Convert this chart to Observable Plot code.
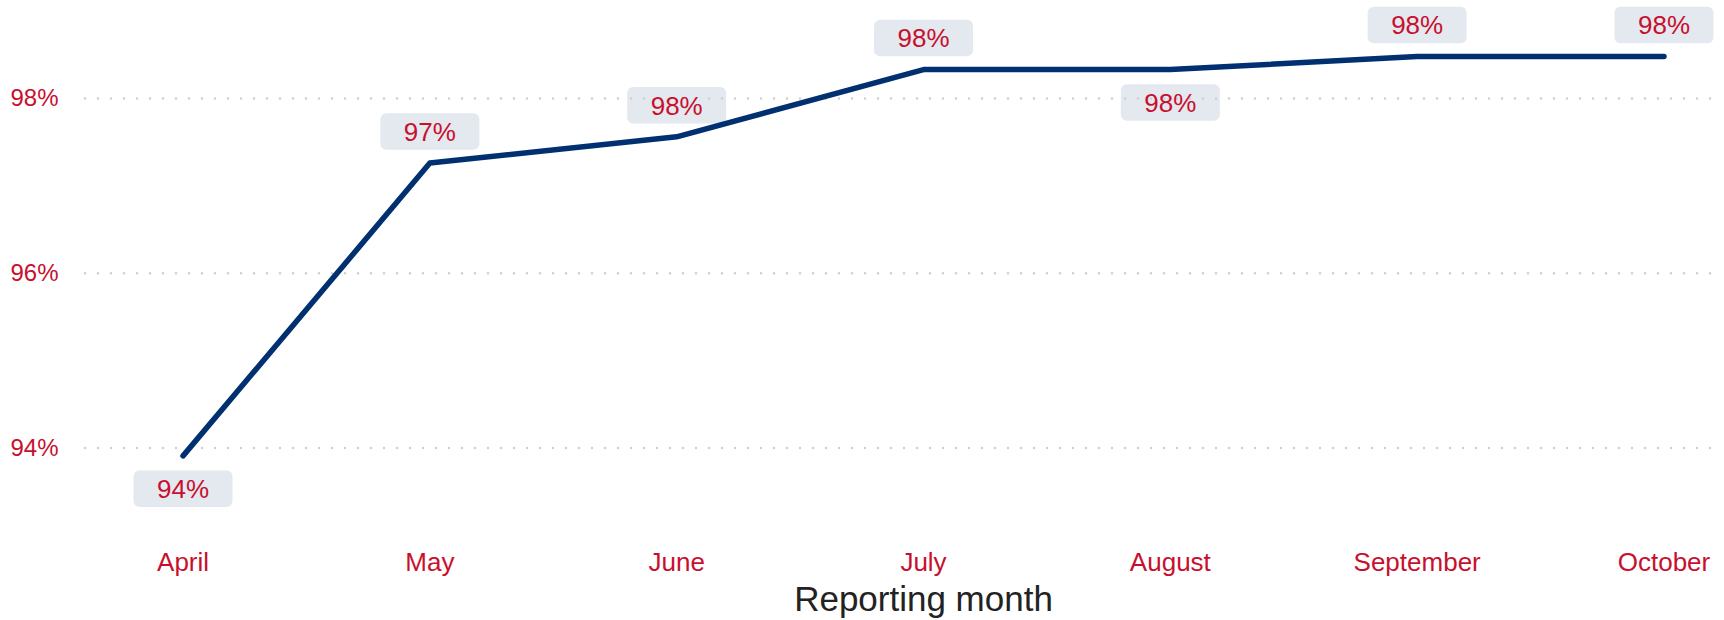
<!DOCTYPE html>
<html>
<head>
<meta charset="utf-8">
<script src="https://cdn.jsdelivr.net/npm/d3@7"></script>
<script src="https://cdn.jsdelivr.net/npm/@observablehq/plot@0.6"></script>
<style>
  html, body { margin: 0; padding: 0; background: #ffffff; }
  #chart { width: 1724px; height: 620px; }
</style>
</head>
<body>
<div id="chart"></div>
<script>
// ---- Data ----
const months = ["April", "May", "June", "July", "August", "September", "October"];
const values = [93.91, 97.26, 97.56, 98.33, 98.33, 98.48, 98.48];
const yTicks = [94, 96, 98];
const xTitle = "Reporting month";

// ---- Styling ----
const RED = "#c8102e";
const NAVY = "#003070";
const BOX = "#e4e8ef";
const GRID = "#cfcfcf";
const FONT = "'Liberation Sans', Arial, Helvetica, sans-serif";

const data = months.map((m, i) => ({month: m, value: values[i], i}));
const labelBelow = new Set([0, 4]); // label placement as in the reference
const above = data.filter(d => !labelBelow.has(d.i));
const below = data.filter(d => labelBelow.has(d.i));
const fmt = d => `${Math.round(d.value)}%`;

// rounded-rectangle symbol for the value label backgrounds
const roundRect = {
  draw(ctx) {
    const w = 99, h = 36.5, r = 6, x0 = -w / 2, y0 = -h / 2;
    ctx.moveTo(x0 + r, y0);
    ctx.lineTo(x0 + w - r, y0);
    ctx.arcTo(x0 + w, y0, x0 + w, y0 + r, r);
    ctx.lineTo(x0 + w, y0 + h - r);
    ctx.arcTo(x0 + w, y0 + h, x0 + w - r, y0 + h, r);
    ctx.lineTo(x0 + r, y0 + h);
    ctx.arcTo(x0, y0 + h, x0, y0 + h - r, r);
    ctx.lineTo(x0, y0 + r);
    ctx.arcTo(x0, y0, x0 + r, y0, r);
    ctx.closePath();
  }
};

const labelMarks = (rows, dy) => [
  Plot.dot(rows, {x: "month", y: "value", symbol: roundRect, fill: BOX, stroke: "none", dy}),
];
const labelTexts = (rows, dy) => [
  Plot.text(rows, {x: "month", y: "value", text: fmt, dy: dy + 1, fill: RED, fontSize: 26, lineAnchor: "middle"})
];

const chart = Plot.plot({
  width: 1724,
  height: 620,
  marginLeft: 85,
  marginRight: 7,
  marginTop: 10.5,
  marginBottom: 85.1,
  style: {fontFamily: FONT, color: RED, background: "#ffffff", overflow: "visible"},
  x: {type: "point", domain: months, padding: 0.306, align: 0.6457, round: false},
  y: {domain: [93, 99]},
  marks: [
    ...labelMarks(above, -31.5),
    ...labelMarks(below, 33),
    Plot.ruleY(yTicks, {stroke: GRID, strokeWidth: 2.5, strokeDasharray: "0,13", strokeLinecap: "round"}),
    Plot.line(data, {x: "month", y: "value", stroke: NAVY, strokeWidth: 5.5, strokeLinecap: "round", strokeLinejoin: "round"}),
    ...labelTexts(above, -31.5),
    ...labelTexts(below, 33),
    Plot.axisY({ticks: yTicks, tickFormat: d => `${d}%`, tickSize: 0, tickPadding: 27, fontSize: 24, fill: RED, label: null}),
    Plot.axisX({tickSize: 0, tickPadding: 17, fontSize: 26, fill: RED, label: null}),
    Plot.text([xTitle], {x: () => months[Math.floor(months.length / 2)], frameAnchor: "bottom", lineAnchor: "top", dy: 51, fontSize: 35, fill: "#222222"})
  ]
});

document.getElementById("chart").appendChild(chart);
</script>
</body>
</html>
